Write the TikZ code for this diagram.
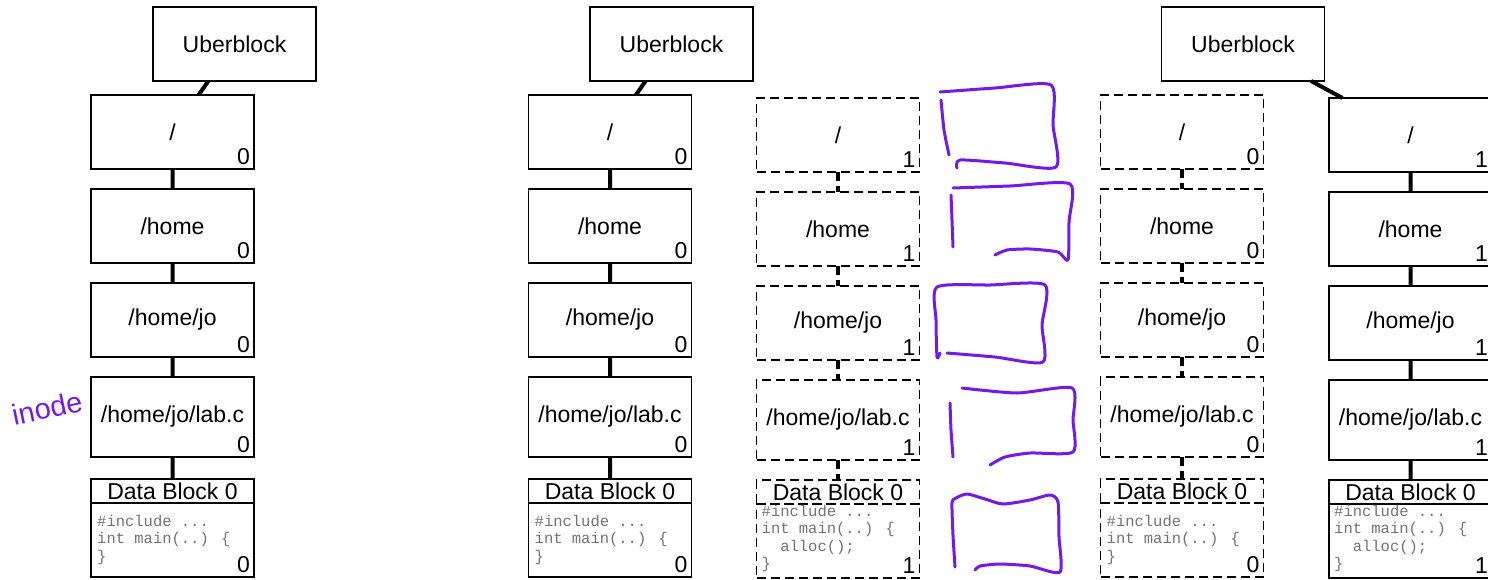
\documentclass[tikz,border=0pt]{standalone}
\usepackage{fontspec}
\setmainfont{Liberation Sans}
\newfontfamily\codefont{Liberation Mono}
\usetikzlibrary{positioning}
\definecolor{pen}{RGB}{115,25,235}
\newcommand{\fsfont}{\fontsize{23}{27}\selectfont}

\begin{document}
\begin{tikzpicture}[x=1pt, y=-1pt,
    node distance=20pt,
    fsbox/.style={draw, line width=1.5pt, minimum width=163pt, minimum height=74pt,
      inner sep=0pt, outer sep=0pt, font=\fsfont},
    oldbox/.style={fsbox, dash pattern=on 9pt off 5pt},
    dbhead/.style={minimum height=24pt},
    cntlbl/.style={font=\fsfont, anchor=south east, inner sep=4pt},
    cnt/.style={label={[cntlbl]south east:#1}},
    code/.style={font=\codefont\fontsize{15.5}{17.5}\selectfont, text=black!55,
      align=left, inner sep=0pt, anchor=north west},
    link/.style={line width=4pt},
    oldlink/.style={link, dash pattern=on 9pt off 5pt},
    scrawl/.style={pen, line width=3pt, line cap=round, line join=round}
  ]
  \useasboundingbox (0,0) rectangle (1488,579);

  % first tree
  \node[fsbox] (ub1) at (234.5,44) {Uberblock};
  \node[fsbox, cnt=0] (r1) at (172.5,132) {/};
  \node[fsbox, cnt=0, below=of r1] (h1) {/home};
  \node[fsbox, cnt=0, below=of h1] (j1) {/home/jo};
  \node[fsbox, cnt=0, minimum height=80pt, below=of j1] (l1) {/home/jo/lab.c};
  \node[fsbox, dbhead, below=22pt of l1] (dh1) {Data Block 0};
  \node[fsbox, cnt=0, below=0pt of dh1] (db1) {};
  \node[code] (c1) at ([shift={(6pt,-12pt)}]db1.north west) {\#include ...\\int main(..) \{\\\}};
  \draw[link] (ub1) -- (r1) (r1) -- (h1) (h1) -- (j1) (j1) -- (l1) (l1) -- (dh1);
  \node[pen, font=\fontsize{29}{29}\selectfont, rotate=12] (ino) at (47,408) {inode};

  % second tree, before the write
  \node[fsbox] (ub2) at (671.5,44) {Uberblock};
  \node[fsbox, cnt=0] (r2) at (610,132) {/};
  \node[fsbox, cnt=0, below=of r2] (h2) {/home};
  \node[fsbox, cnt=0, below=of h2] (j2) {/home/jo};
  \node[fsbox, cnt=0, minimum height=80pt, below=of j2] (l2) {/home/jo/lab.c};
  \node[fsbox, dbhead, below=22pt of l2] (dh2) {Data Block 0};
  \node[fsbox, cnt=0, below=0pt of dh2] (db2) {};
  \node[code] (c2) at ([shift={(6pt,-12pt)}]db2.north west) {\#include ...\\int main(..) \{\\\}};
  \draw[link] (ub2) -- (r2) (r2) -- (h2) (h2) -- (j2) (j2) -- (l2) (l2) -- (dh2);

  % new copies, not yet linked
  \node[oldbox, cnt=1] (r3) at (838,135) {/};
  \node[oldbox, cnt=1, below=of r3] (h3) {/home};
  \node[oldbox, cnt=1, below=of h3] (j3) {/home/jo};
  \node[oldbox, cnt=1, minimum height=80pt, below=of j3] (l3) {/home/jo/lab.c};
  \node[oldbox, dbhead, below=of l3] (dh3) {Data Block 0};
  \node[oldbox, cnt=1, below=0pt of dh3] (db3) {};
  \node[code] (c3) at ([shift={(5pt,-1pt)}]db3.north west)
    {\#include ...\\int main(..) \{\\\phantom{xx}alloc();\\\}};
  \draw[oldlink] (r3) -- (h3) (h3) -- (j3) (j3) -- (l3) (l3) -- (dh3);

  % hand drawn marks
  \draw[scrawl] plot[smooth, tension=0.4] coordinates {(940,92) (995,88) (1051,85) (1053,125) (1056,167) (1005,163) (960,160) (957,168)};
  \draw[scrawl] plot[smooth, tension=0.4] coordinates {(941,100) (944,130) (949,155)};
  \draw[scrawl] plot[smooth, tension=0.4] coordinates {(953,188) (1010,186) (1070,184) (1069,222) (1068,260) (1058,252) (1030,249) (1007,250) (995,255)};
  \draw[scrawl] plot[smooth, tension=0.4] coordinates {(951,195) (952,220) (953,247)};
  \draw[scrawl] plot[smooth, tension=0.4] coordinates {(940,353) (937,357) (936,320) (937,287) (990,285) (1045,285) (1042,325) (1043,362) (995,357) (947,353)};
  \draw[scrawl] plot[smooth, tension=0.4] coordinates {(962,388) (1017,393) (1072,388) (1073,420) (1073,452) (1030,453) (1005,457) (990,465)};
  \draw[scrawl] plot[smooth, tension=0.4] coordinates {(950,403) (951,430) (953,457)};
  \draw[scrawl] plot[smooth, tension=0.4] coordinates {(955,567) (953,535) (952,503) (956,498) (967,494) (985,499) (1003,504) (1030,500) (1050,495) (1058,502) (1059,537) (1060,572) (1030,566) (1000,564) (980,566) (975,570)};

  % old tree, no longer used
  \node[fsbox] (ub4) at (1243,44) {Uberblock};
  \node[oldbox, cnt=0] (r4) at (1182,132) {/};
  \node[oldbox, cnt=0, below=of r4] (h4) {/home};
  \node[oldbox, cnt=0, below=of h4] (j4) {/home/jo};
  \node[oldbox, cnt=0, minimum height=80pt, below=of j4] (l4) {/home/jo/lab.c};
  \node[oldbox, dbhead, below=22pt of l4] (dh4) {Data Block 0};
  \node[oldbox, cnt=0, below=0pt of dh4] (db4) {};
  \node[code] (c4) at ([shift={(6pt,-12pt)}]db4.north west) {\#include ...\\int main(..) \{\\\}};
  \draw[oldlink] (r4) -- (h4) (h4) -- (j4) (j4) -- (l4) (l4) -- (dh4);

  % new tree
  \node[fsbox, cnt=1] (r5) at (1410.5,135) {/};
  \node[fsbox, cnt=1, below=of r5] (h5) {/home};
  \node[fsbox, cnt=1, below=of h5] (j5) {/home/jo};
  \node[fsbox, cnt=1, minimum height=80pt, below=of j5] (l5) {/home/jo/lab.c};
  \node[fsbox, dbhead, below=of l5] (dh5) {Data Block 0};
  \node[fsbox, cnt=1, below=0pt of dh5] (db5) {};
  \node[code] (c5) at ([shift={(5pt,-1pt)}]db5.north west)
    {\#include ...\\int main(..) \{\\\phantom{xx}alloc();\\\}};
  \draw[link] (ub4) -- (r5) (r5) -- (h5) (h5) -- (j5) (j5) -- (l5) (l5) -- (dh5);
\end{tikzpicture}
\end{document}
